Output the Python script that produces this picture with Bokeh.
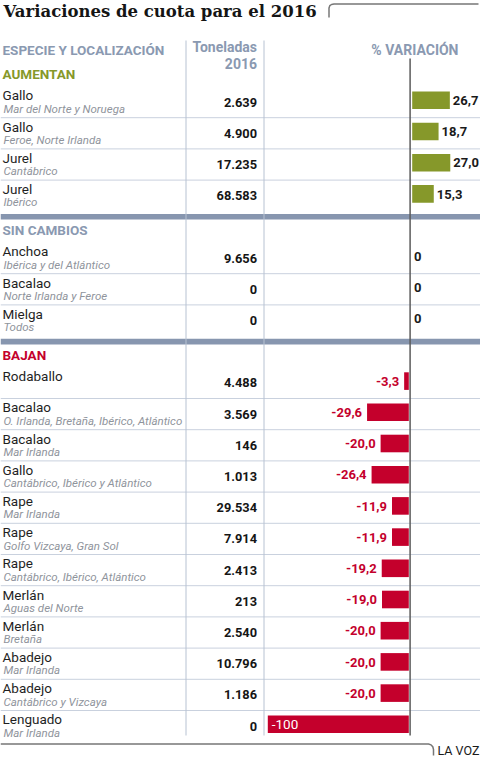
from bokeh.plotting import figure
from bokeh.models import Range1d, ColumnDataSource
from bokeh.core.properties import value
from bokeh.embed import file_html
from bokeh.resources import INLINE

# ---------------- data ----------------
title = "Variaciones de cuota para el 2016"
col_headers = ["ESPECIE Y LOCALIZACIÓN", "Toneladas", "2016", "% VARIACIÓN"]
section_names = ["AUMENTAN", "SIN CAMBIOS", "BAJAN"]
source_label = "LA VOZ"

aum_species = ["Gallo", "Gallo", "Jurel", "Jurel"]
aum_zone = ["Mar del Norte y Noruega", "Feroe, Norte Irlanda", "Cantábrico", "Ibérico"]
aum_tonnes = [2639, 4900, 17235, 68583]
aum_pct = [26.7, 18.7, 27.0, 15.3]

sin_species = ["Anchoa", "Bacalao", "Mielga"]
sin_zone = ["Ibérica y del Atlántico", "Norte Irlanda y Feroe", "Todos"]
sin_tonnes = [9656, 0, 0]
sin_pct = [0, 0, 0]

baj_species = ["Rodaballo", "Bacalao", "Bacalao", "Gallo", "Rape", "Rape", "Rape",
               "Merlán", "Merlán", "Abadejo", "Abadejo", "Lenguado"]
baj_zone = ["", "O. Irlanda, Bretaña, Ibérico, Atlántico", "Mar Irlanda",
            "Cantábrico, Ibérico y Atlántico", "Mar Irlanda", "Golfo Vizcaya, Gran Sol",
            "Cantábrico, Ibérico, Atlántico", "Aguas del Norte", "Bretaña", "Mar Irlanda",
            "Cantábrico y Vizcaya", "Mar Irlanda"]
baj_tonnes = [4488, 3569, 146, 1013, 29534, 7914, 2413, 213, 2540, 10796, 1186, 0]
baj_pct = [-3.3, -29.6, -20.0, -26.4, -11.9, -11.9, -19.2, -19.0, -20.0, -20.0, -20.0, -100]

# ---------------- layout constants ----------------
W, H = 480, 757
PITCH = 31.2          # px per row
TOP0 = 86.0           # px of first row top
ZERO_PX = 409.6       # px of the 0 % line
PX_PER_PCT = 1.41     # px per percentage point
SECTION_START = [0, 5, 9]   # row slot where each section's rows start

GREEN = "#86982a"
RED = "#c4002c"
BLUEGRAY = "#8a99b1"
GRID = "#c9d1de"
BAND = "#8796af"
SANS = "Roboto"


def xd(px):
    return (px - ZERO_PX) / PX_PER_PCT


def yd(py):
    return (py - TOP0) / PITCH


def fmt_t(v):
    return f"{v:,}".replace(",", ".")


def fmt_p(v):
    if v == 0:
        return "0"
    if abs(v) >= 100:
        return f"{v:.0f}"
    return f"{v:.1f}".replace(".", ",")


p = figure(width=W, height=H, x_range=Range1d(xd(0), xd(W)), y_range=Range1d(yd(H), yd(0)),
           output_backend="svg", toolbar_location=None, x_axis_type=None, y_axis_type=None,
           min_border=0, outline_line_color=None, background_fill_color="white",
           border_fill_color="white", title=None)

sections = [
    (aum_species, aum_zone, aum_tonnes, aum_pct, GREEN),
    (sin_species, sin_zone, sin_tonnes, sin_pct, BLUEGRAY),
    (baj_species, baj_zone, baj_tonnes, baj_pct, RED),
]

# bands between sections
for k in (1, 2):
    top = SECTION_START[k] - 28.5 / PITCH
    p.quad(left=xd(0), right=xd(W), top=top, bottom=top + 5.6 / PITCH,
           fill_color=BAND, line_color=None)

# thin row separators
sep_y = []
for k, (sp, zn, tn, pc, col) in enumerate(sections):
    for i in range(1, len(sp)):
        sep_y.append(SECTION_START[k] + i)
p.segment(x0=[xd(0)] * len(sep_y), x1=[xd(W)] * len(sep_y), y0=sep_y, y1=sep_y,
          line_color=GRID, line_width=1)

# vertical column lines
p.segment(x0=[xd(185.5), xd(263.5)], x1=[xd(185.5), xd(263.5)],
          y0=[yd(40), yd(40)], y1=[yd(735), yd(735)], line_color="#b7c2d2", line_width=1)

# section labels
p.text(x=[xd(2)] * 3, y=[s - 12.3 / PITCH for s in SECTION_START], text=section_names,
       text_color=[GREEN, BLUEGRAY, RED], text_font=value(SANS), text_font_style="bold",
       text_font_size="13.5px", text_baseline="middle", text_align="left")

# rows
for k, (sp, zn, tn, pc, col) in enumerate(sections):
    slots = [SECTION_START[k] + i for i in range(len(sp))]
    src = ColumnDataSource(dict(
        slot=slots,
        name_y=[s + 8.8 / PITCH for s in slots],
        zone_y=[s + 22.3 / PITCH for s in slots],
        num_y=[s + 15.6 / PITCH for s in slots],
        lab_y=[s + 14.0 / PITCH for s in slots],
        bar_top=[s + (13.8 - 8.8) / PITCH for s in slots],
        bar_bot=[s + (13.8 + 8.8) / PITCH for s in slots],
        species=sp, zone=zn, tonnes=[fmt_t(v) for v in tn],
        pct=pc, pct_lab=[fmt_p(v) for v in pc],
    ))
    p.text(x=xd(2), y="name_y", text="species", source=src, text_font=value(SANS),
           text_font_size="13.5px", text_color="#1f1f1f", text_baseline="middle")
    p.text(x=xd(3), y="zone_y", text="zone", source=src, text_font=value(SANS),
           text_font_style="italic", text_font_size="11.5px", text_color="#8f949c",
           text_baseline="middle")
    p.text(x=xd(256.5), y="num_y", text="tonnes", source=src, text_font=value(SANS),
           text_font_style="bold", text_font_size="12.8px", text_color="#151515",
           text_align="right", text_baseline="middle")

    # bars
    pos_left, pos_right, pos_top, pos_bot = [], [], [], []
    neg_left, neg_right, neg_top, neg_bot = [], [], [], []
    lab_x, lab_t, lab_y, lab_c, lab_a = [], [], [], [], []
    in_x, in_t, in_y = [], [], []
    for i, v in enumerate(pc):
        if v > 0:
            l = xd(411.7)
            pos_left.append(l); pos_right.append(l + v)
            pos_top.append(src.data["bar_top"][i]); pos_bot.append(src.data["bar_bot"][i])
            lab_x.append(l + v + 3.0 / PX_PER_PCT); lab_a.append("left"); lab_c.append("#1a1a1a")
        elif v < 0:
            r = xd(408.3)
            neg_left.append(r + v); neg_right.append(r)
            neg_top.append(src.data["bar_top"][i]); neg_bot.append(src.data["bar_bot"][i])
            if v <= -90:
                in_x.append(r + v + 4 / PX_PER_PCT); in_t.append(fmt_p(v))
                in_y.append(src.data["lab_y"][i])
                continue
            lab_x.append(r + v - 5 / PX_PER_PCT); lab_a.append("right"); lab_c.append(RED)
        else:
            lab_x.append(xd(413.5)); lab_a.append("left"); lab_c.append("#1a1a1a")
        lab_t.append(fmt_p(v)); lab_y.append(src.data["lab_y"][i])
    if pos_left:
        p.quad(left=pos_left, right=pos_right, top=pos_top, bottom=pos_bot,
               fill_color=GREEN, line_color=None)
    if neg_left:
        p.quad(left=neg_left, right=neg_right, top=neg_top, bottom=neg_bot,
               fill_color=RED, line_color=None)
    p.text(x=lab_x, y=lab_y, text=lab_t, text_color=lab_c, text_align=lab_a,
           text_font=value(SANS), text_font_style="bold", text_font_size="13px",
           text_baseline="middle")
    if in_x:
        p.text(x=in_x, y=in_y, text=in_t, text_color="white", text_font=value(SANS),
               text_font_size="13.5px", text_baseline="middle")

# zero line
p.segment(x0=[0], x1=[0], y0=[yd(58)], y1=[yd(735)], line_color="#5b5b5b", line_width=1.5)

# headers
p.text(x=[xd(2)], y=[yd(49)], text=[col_headers[0]], text_font=value(SANS),
       text_font_style="bold", text_font_size="13.5px", text_color=BLUEGRAY,
       text_baseline="middle")
p.text(x=[xd(256.5), xd(256.5)], y=[yd(46.7), yd(62.5)], text=col_headers[1:3],
       text_font=value(SANS), text_font_style="bold", text_font_size="14px",
       text_color=BLUEGRAY, text_align="right", text_baseline="middle")
p.text(x=[xd(458)], y=[yd(49)], text=[col_headers[3]], text_font=value(SANS),
       text_font_style="bold", text_font_size="14px", text_color=BLUEGRAY,
       text_align="right", text_baseline="middle")

# title + rule
p.text(x=[xd(3)], y=[yd(11.2)], text=[title], text_font=value("DejaVu Serif"),
       text_font_style="bold", text_font_size="16.5px", text_color="#151515",
       text_baseline="middle")
tx = [328.5, 328.5, 329.3, 331.0, 333.5, 478]
ty = [17, 7.5, 5.2, 4.0, 3.6, 3.6]
p.line(x=[xd(v) for v in tx], y=[yd(v) for v in ty], line_color="#777777", line_width=1.5)

# footer rule + source
fx = [0, 428, 430.6, 432.3, 433, 433]
fy = [743.5, 743.5, 744.4, 746.3, 749, 755]
p.line(x=[xd(v) for v in fx], y=[yd(v) for v in fy], line_color="#777777", line_width=1.5)
p.text(x=[xd(437)], y=[yd(749.5)], text=[source_label], text_font=value(SANS),
       text_font_size="12.5px", text_color="#1a1a1a", text_baseline="middle")

open("out.html", "w").write(file_html(p, INLINE))
